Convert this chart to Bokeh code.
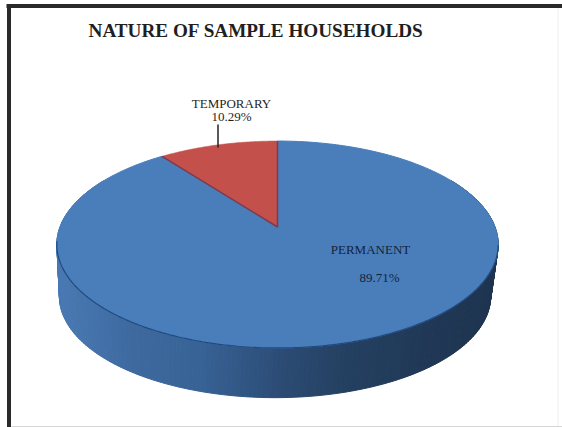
import numpy as np
from bokeh.core.properties import value
from bokeh.embed import file_html
from bokeh.models import Range1d
from bokeh.plotting import figure
from bokeh.resources import INLINE

# Survey result: nature of the sampled households, in percent
title_text = "NATURE OF SAMPLE HOUSEHOLDS"
categories = ["PERMANENT", "TEMPORARY"]
shares = [89.71, 10.29]
slice_colors = ["#4a7ebb", "#c4504c"]

SERIF = value("Liberation Serif")
INK = "#1f1f1f"

p = figure(width=562, height=427, output_backend="svg", toolbar_location=None,
           x_range=Range1d(0, 562), y_range=Range1d(427, 0),
           min_border=0, outline_line_color=None, background_fill_color="white",
           border_fill_color="white")
p.axis.visible = False
p.grid.visible = False

# Perspective disc: a unit circle tilted away from the viewer
CX, CY = 277, 226.5
BX, AY, K = 217.5, 100.5, 0.169
DEPTH_SCALE, DEPTH_X, DEPTH_Y = 0.977, -2.5, 52.5


def rim(theta, scale=1.0, dx=0.0, dy=0.0):
    """Screen position of clockwise angle theta (degrees from 12 o'clock)."""
    t = np.radians(theta)
    u, v = np.sin(t), np.cos(t)
    den = 1 + K * v
    return CX + dx + scale * BX * u / den, CY + dy - scale * AY * v / den


def shade(x):
    """Side wall colour: lit at the left, falling into shadow at the right."""
    stops_x = [57, 130, 200, 280, 350, 430, 497]
    r = np.interp(x, stops_x, [74, 62, 56, 44, 36, 32, 30])
    g = np.interp(x, stops_x, [122, 106, 99, 76, 64, 56, 52])
    b = np.interp(x, stops_x, [180, 160, 150, 117, 96, 86, 80])
    return "#%02x%02x%02x" % (int(r), int(g), int(b))


# Side wall, built from narrow strips around the front of the disc
steps = np.arange(60, 300.5, 1.0)
xs, ys, cols = [], [], []
for a, b in zip(steps[:-1], steps[1:]):
    tx0, ty0 = rim(a)
    tx1, ty1 = rim(b)
    bx1, by1 = rim(b, DEPTH_SCALE, DEPTH_X, DEPTH_Y)
    bx0, by0 = rim(a, DEPTH_SCALE, DEPTH_X, DEPTH_Y)
    xs.append([tx0, tx1, bx1, bx0])
    ys.append([ty0, ty1, by1, by0])
    cols.append(shade((tx0 + tx1 + bx0 + bx1) / 4))
p.patches(xs, ys, fill_color=cols, line_color=cols, line_width=1)

# Top faces: slices run clockwise from 12 o'clock, temporary closing the circle
temporary_span = shares[1] / sum(shares) * 360
permanent_span = shares[0] / sum(shares) * 360
perm_angles = np.linspace(0, permanent_span, 300)
temp_angles = np.linspace(permanent_span, permanent_span + temporary_span, 60)

px, py = rim(perm_angles)
p.patch(np.r_[CX, px], np.r_[CY, py], fill_color=slice_colors[0],
        line_color=slice_colors[0], line_width=1)

# Darker edge where the top face meets the front wall
front = np.linspace(100, 262, 200)
fx, fy = rim(front)
p.line(fx, fy, line_color="#1f4a80", line_width=1.2)

tx, ty = rim(temp_angles)
p.patch(np.r_[CX, tx], np.r_[CY, ty], fill_color=slice_colors[1],
        line_color=slice_colors[1], line_width=0.5)

# Shaded cut faces along the straight edges of the temporary slice
ex, ey = rim(np.array([permanent_span, 360.0]))
p.line([ex[0], CX, ex[1]], [ey[0], CY, ey[1]], line_color="#7d3b52", line_width=1.6)

# Leader from the temporary label down to its slice
p.line([217.5, 217.5], [124, 147], line_color="#222222", line_width=1.5)

# Chart frame: heavy top and left rules, faint right and bottom rules
p.line([8.5, 8.5], [5, 427], line_color="#2a2a2a", line_width=4)
p.line([6, 562], [5.5, 5.5], line_color="#2a2a2a", line_width=4)
p.line([557.5, 557.5], [8, 427], line_color="#efefef", line_width=1)
p.line([11, 562], [426, 426], line_color="#d6d6d6", line_width=1)

p.text([255.5], [30], text=[title_text], text_font=SERIF, text_font_size="19.2px",
       text_font_style="bold", text_color=INK, text_align="center", text_baseline="middle")

p.text([231, 231], [103, 116], text=[categories[1], f"{shares[1]:.2f}%"], text_font=SERIF,
       text_font_size="13px", text_color=INK, text_align="center", text_baseline="middle")
p.text([370, 379], [249, 277], text=[categories[0], f"{shares[0]:.2f}%"], text_font=SERIF,
       text_font_size="13px", text_color="#14233c", text_align="center", text_baseline="middle")

open("out.html", "w").write(file_html(p, INLINE))
